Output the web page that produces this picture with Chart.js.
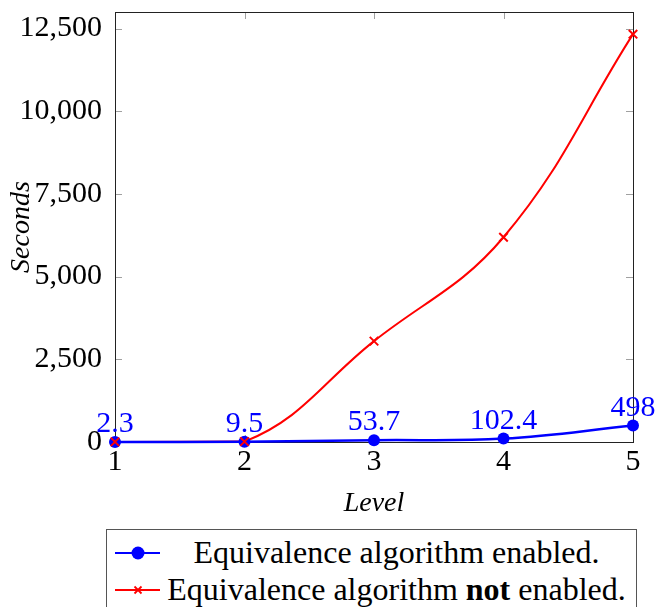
<!DOCTYPE html>
<html>
<head>
<meta charset="utf-8">
<script src="https://cdn.jsdelivr.net/npm/chart.js@4/dist/chart.umd.min.js"></script>
<style>
  html, body { margin: 0; padding: 0; background: #fff; }
  #wrap { position: relative; width: 657px; height: 607px; overflow: hidden; }
  #c { position: absolute; left: 0; top: 0; }
  #legend {
    position: absolute; left: 106px; top: 529px; width: 531px; height: 100px;
    box-sizing: border-box; border: 1px solid #555; background: #fff;
    font-family: "Liberation Serif", "DejaVu Serif", serif; font-size: 32px; color: #000;
  }
  .row { display: flex; align-items: center; height: 37px; }
  .row:first-child { margin-top: 4px; }
  .row svg { margin-left: 8px; flex: none; }
  .row span { flex: none; width: 467px; margin-left: 3px; text-align: center; white-space: nowrap; line-height: 37px; }
</style>
</head>
<body>
<div id="wrap">
  <canvas id="c" width="657" height="607"></canvas>
  <div id="legend"></div>
</div>
<script>
// ---- data ----
const levels = [1, 2, 3, 4, 5];
const enabledSeconds = [2.3, 9.5, 53.7, 102.4, 498];
const notEnabledSeconds = [3, 12, 3050, 6190, 12330];
const yTicks = [0, 2500, 5000, 7500, 10000, 12500];
const seriesNames = ['Equivalence algorithm enabled.', 'Equivalence algorithm not enabled.'];
const xTitle = 'Level';
const yTitle = 'Seconds';

const SERIF = '"Liberation Serif", "DejaVu Serif", serif';
const BLUE = '#0000ff';
const RED = '#ff0000';

// ---- legend (HTML) ----
(function buildLegend() {
  const lg = document.getElementById('legend');
  const blueIcon = '<svg width="45" height="20" viewBox="0 0 45 20"><line x1="0" y1="10" x2="45" y2="10" stroke="' + BLUE + '" stroke-width="2"/><circle cx="23" cy="10" r="6.5" fill="' + BLUE + '"/></svg>';
  const redIcon = '<svg width="45" height="20" viewBox="0 0 45 20"><line x1="0" y1="10" x2="45" y2="10" stroke="' + RED + '" stroke-width="2"/><line x1="19.5" y1="6.5" x2="26.5" y2="13.5" stroke="' + RED + '" stroke-width="1.8"/><line x1="19.5" y1="13.5" x2="26.5" y2="6.5" stroke="' + RED + '" stroke-width="1.8"/></svg>';
  const parts2 = seriesNames[1].split(' not ');
  lg.innerHTML =
    '<div class="row">' + blueIcon + '<span>' + seriesNames[0] + '</span></div>' +
    '<div class="row">' + redIcon + '<span>' + parts2[0] + ' <b>not</b> ' + parts2[1] + '</span></div>';
})();

// ---- plugins ----
const frameAndTicks = {
  id: 'frameAndTicks',
  beforeDatasetsDraw(chart) {
    const { ctx, chartArea: a, scales: { x, y } } = chart;
    ctx.save();
    ctx.strokeStyle = '#a0a0a0';
    ctx.lineWidth = 1;
    const L = 7;
    ctx.beginPath();
    yTicks.forEach(v => {
      const py = Math.round(y.getPixelForValue(v)) + 0.5;
      ctx.moveTo(a.left, py); ctx.lineTo(a.left + L, py);
      ctx.moveTo(a.right, py); ctx.lineTo(a.right - L, py);
    });
    levels.forEach((lv, i) => {
      const px = Math.round(x.getPixelForValue(i)) + 0.5;
      ctx.moveTo(px, a.bottom); ctx.lineTo(px, a.bottom - L);
      ctx.moveTo(px, a.top); ctx.lineTo(px, a.top + L);
    });
    ctx.stroke();
    ctx.strokeStyle = '#222';
    ctx.lineWidth = 1;
    ctx.strokeRect(Math.round(a.left) + 0.5, Math.round(a.top) + 0.5,
                   Math.round(a.right - a.left), Math.round(a.bottom - a.top));
    ctx.restore();
  }
};

const pointLabels = {
  id: 'pointLabels',
  afterDatasetsDraw(chart) {
    const { ctx } = chart;
    const meta = chart.getDatasetMeta(1);
    ctx.save();
    ctx.fillStyle = BLUE;
    ctx.font = '30px ' + SERIF;
    ctx.textAlign = 'center';
    ctx.textBaseline = 'alphabetic';
    meta.data.forEach((pt, i) => {
      ctx.fillText(String(enabledSeconds[i]), pt.x, pt.y - 10);
    });
    ctx.restore();
  }
};

// ---- chart ----
new Chart(document.getElementById('c'), {
  type: 'line',
  data: {
    labels: levels.map(String),
    datasets: [
      { // red markers (on top)
        label: seriesNames[1] + ' markers',
        data: notEnabledSeconds,
        showLine: false,
        pointStyle: 'crossRot',
        pointRadius: 6,
        pointBorderWidth: 2,
        borderColor: RED,
        backgroundColor: RED,
        order: 0,
        clip: false
      },
      { // blue series
        label: seriesNames[0],
        data: enabledSeconds,
        borderColor: BLUE,
        backgroundColor: BLUE,
        borderWidth: 2.5,
        pointStyle: 'circle',
        pointRadius: 6,
        pointBorderWidth: 0,
        tension: 0.4,
        order: 1,
        clip: false
      },
      { // red line (behind)
        label: seriesNames[1],
        data: notEnabledSeconds,
        borderColor: RED,
        backgroundColor: RED,
        borderWidth: 2,
        pointRadius: 0,
        tension: 0.4,
        order: 2
      }
    ]
  },
  options: {
    responsive: false,
    animation: false,
    devicePixelRatio: 1,
    layout: { padding: { top: 12, right: 24, left: 0, bottom: 0 } },
    plugins: {
      legend: { display: false },
      tooltip: { enabled: false },
      title: { display: false }
    },
    scales: {
      x: {
        type: 'category',
        offset: false,
        grid: { display: false, drawTicks: false },
        border: { display: false },
        ticks: { color: '#000', font: { family: SERIF, size: 30 }, padding: 2, maxRotation: 0, autoSkip: false },
        title: { display: true, text: xTitle, color: '#000', font: { family: SERIF, size: 28, style: 'italic' }, padding: { top: 0, bottom: 87 } },
        afterFit(s) { s.height = 165; s.paddingLeft = 0; s.paddingRight = 0; }
      },
      y: {
        min: 0,
        max: 13000,
        afterBuildTicks(s) { s.ticks = yTicks.map(v => ({ value: v })); },
        grid: { display: false, drawTicks: false },
        border: { display: false },
        ticks: {
          color: '#000', font: { family: SERIF, size: 30 }, padding: 13,
          callback: v => Number(v).toLocaleString('en-US')
        },
        title: { display: true, text: yTitle, color: '#000', font: { family: SERIF, size: 28, style: 'italic' }, padding: { top: 5, bottom: 0 } },
        afterFit(s) { s.width = 115; s.paddingTop = 0; s.paddingBottom = 0; }
      }
    }
  },
  plugins: [frameAndTicks, pointLabels]
});
</script>
</body>
</html>
